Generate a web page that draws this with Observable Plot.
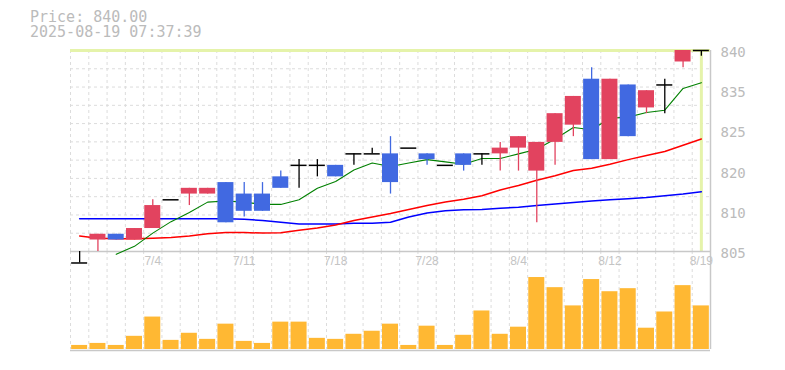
<!DOCTYPE html>
<html>
<head>
<meta charset="utf-8">
<script src="https://cdn.jsdelivr.net/npm/d3@7"></script>
<script src="https://cdn.jsdelivr.net/npm/@observablehq/plot@0.6"></script>
<style>
  body { margin: 0; background: #fff; }
  #wrap { position: relative; width: 785px; height: 370px; overflow: hidden; background: #fff; }
  #title { position: absolute; left: 30px; top: 10px; font: 15px/15px "DejaVu Sans Mono", monospace; color: #bbbbbb; white-space: pre; }
  #vol, #price { position: absolute; left: 0; }
  #vol { top: 251px; }
  #price { top: 0; }
</style>
</head>
<body>
<div id="wrap">
  <div id="title"></div>
  <div id="vol"></div>
  <div id="price"></div>
</div>
<script>
// ---- data ----
const titlePrice = "Price: 840.00";
const titleTime = "2025-08-19 07:37:39";
const lastPrice = 840;

const dates = ["6/30","7/1","7/2","7/3","7/4","7/7","7/8","7/9","7/10","7/11",
  "7/14","7/15","7/16","7/17","7/18","7/22","7/23","7/24","7/25","7/28",
  "7/29","7/30","7/31","8/1","8/4","8/5","8/6","8/7","8/8","8/12",
  "8/13","8/14","8/15","8/18","8/19"];
const opens  = [803,807,808,807,809,814,815,815,817,815, 815,818,820,820,820,822,822,822,823,822, 820,822,822,822,823,819,824,827,835,821, 834,830,834,838,840];
const highs  = [805,808,808,809,814,814,816,816,817,817, 817,819,821,821,820,822,823,825,823,822, 820,822,822,824,825,824,829,832,837,835, 834,833,835,840,840];
const lows   = [803,805,807,807,809,814,813,815,810,811, 812,816,816,818,818,820,822,815,823,820, 820,819,820,819,819,810,820,825,821,821, 825,829,829,837,839];
const closes = [803,808,807,809,813,814,816,816,810,812, 812,816,820,820,818,822,822,817,823,821, 820,820,822,823,825,824,829,832,821,835, 825,833,834,840,840];
const volumes = [1200,1800,1200,3900,9600,2700,4800,3000,7500,2400,
  1800,8100,8100,3300,3000,4500,5400,7500,1200,6900,
  1200,4200,11400,4500,6600,21300,18300,12900,20700,17100,
  18000,6300,11100,18900,12900];
const ma5  = [null,null,804.5,805.9,808.2,810.2,811.8,813.6,813.8,813.6,
  813.2,813.2,814.0,816.0,817.2,819.2,820.4,819.8,820.4,821.0,
  820.6,820.2,821.2,821.2,822.0,822.8,824.6,826.6,826.2,828.2,
  828.4,829.2,829.6,833.4,834.4];
const ma25 = [807.7,807.3,807.2,807.2,807.3,807.45,807.7,808.1,808.3,808.3,
  808.2,808.25,808.7,809.1,809.6,810.4,811.0,811.6,812.3,813.0,
  813.6,814.1,814.7,815.7,816.5,817.4,818.2,819.1,819.5,820.2,
  821.0,821.7,822.4,823.5,824.6];
const ma75 = [810.7,810.7,810.7,810.7,810.7,810.7,810.7,810.7,810.7,810.6,
  810.4,810.1,809.8,809.8,809.8,809.9,809.9,810.1,811.0,811.7,
  812.1,812.25,812.3,812.55,812.7,813.0,813.25,813.55,813.8,814.0,
  814.2,814.4,814.7,815.0,815.4];

const xTickLabels = ["7/4","7/11","7/18","7/28","8/4","8/12","8/19"];
const yTicks = [840, 833, 826, 819, 812, 805];
const yTickLabels = ["840","835","825","820","810","805"];
const yDomain = [805, 840];

// ---- styles ----
const RED = "#e2435f", BLUE = "#4169e1", VOL = "#ffb833";
const GRID = "#dcdcdc", AXIS = "#c8c8c8", NOW = "#e5f3aa";

document.getElementById("title").textContent = titlePrice + "\n" + titleTime;

const candles = dates.map((date, i) => ({
  i, date, open: opens[i], high: highs[i], low: lows[i], close: closes[i],
  volume: volumes[i], ma5: ma5[i], ma25: ma25[i], ma75: ma75[i]
}));
const half = 0.4375;
const colorOf = d => d.close > d.open ? RED : d.close < d.open ? BLUE : "#000";
const n = dates.length;
const xDomain = [-0.5, n - 0.5];
const gridX = d3.range(n).map(k => k - 0.5);
const gridY = d3.range(12).map(k => yDomain[0] + k * (yDomain[1] - yDomain[0]) / 11);
const xTicks = xTickLabels.map(s => dates.indexOf(s));

const common = { width: 785, marginLeft: 70, marginRight: 75, style: { background: "transparent", overflow: "visible" } };

const price = Plot.plot({
  ...common,
  height: 270, marginTop: 50, marginBottom: 19,
  x: { domain: xDomain },
  y: { domain: yDomain },
  marks: [
    Plot.ruleY(gridY, { stroke: GRID, strokeDasharray: "3,3" }),
    Plot.ruleX(gridX, { stroke: GRID, strokeDasharray: "3,3" }),
    Plot.ruleY([lastPrice], { stroke: NOW, strokeWidth: 3 }),
    Plot.ruleX([n - 1], { stroke: NOW, strokeWidth: 3 }),
    Plot.ruleY([yDomain[0]], { stroke: AXIS, strokeWidth: 1.5 }),
    Plot.ruleX([n - 0.5], { stroke: AXIS, strokeWidth: 1.5 }),
    Plot.line(candles, { x: "i", y: "ma75", stroke: "#0000ff", strokeWidth: 1.5 }),
    Plot.line(candles, { x: "i", y: "ma25", stroke: "#ff0000", strokeWidth: 1.5 }),
    Plot.line(candles.filter(d => d.ma5 != null), { x: "i", y: "ma5", stroke: "#008000", strokeWidth: 1.1 }),
    Plot.ruleX(candles, { x: "i", y1: "low", y2: "high", stroke: colorOf, strokeWidth: 1.3 }),
    Plot.rect(candles.filter(d => d.open !== d.close), {
      x1: d => d.i - half, x2: d => d.i + half, y1: "open", y2: "close", fill: colorOf
    }),
    Plot.ruleY(candles.filter(d => d.open === d.close), {
      y: "close", x1: d => d.i - half, x2: d => d.i + half, stroke: "#000", strokeWidth: 1.5
    }),
    Plot.axisX(xTicks, {
      tickFormat: i => dates[i], tickSize: 0, tickPadding: 5, label: null,
      fontSize: 12, fontFamily: "Liberation Sans", color: "#c4c4c4"
    }),
    Plot.axisY(yTicks, {
      anchor: "right", tickFormat: d => yTickLabels[yTicks.indexOf(d)], tickSize: 0, tickPadding: 10,
      label: null, fontSize: 14, fontFamily: "DejaVu Sans Mono", color: "#bbbbbb", dy: 2
    })
  ]
});
document.getElementById("price").appendChild(price);

const vol = Plot.plot({
  ...common,
  height: 119, marginTop: 0, marginBottom: 21,
  x: { domain: xDomain, axis: null },
  y: { domain: [0, 29000], axis: null },
  marks: [
    Plot.ruleX(gridX, { stroke: GRID, strokeDasharray: "3,3" }),
    Plot.rect(candles, { x1: d => d.i - half, x2: d => d.i + half, y1: 0, y2: "volume", fill: VOL }),
    Plot.ruleY([0], { stroke: AXIS, strokeWidth: 1.5, dy: 1 }),
    Plot.ruleX([n - 0.5], { stroke: AXIS, strokeWidth: 1.5 })
  ]
});
document.getElementById("vol").appendChild(vol);
</script>
</body>
</html>
